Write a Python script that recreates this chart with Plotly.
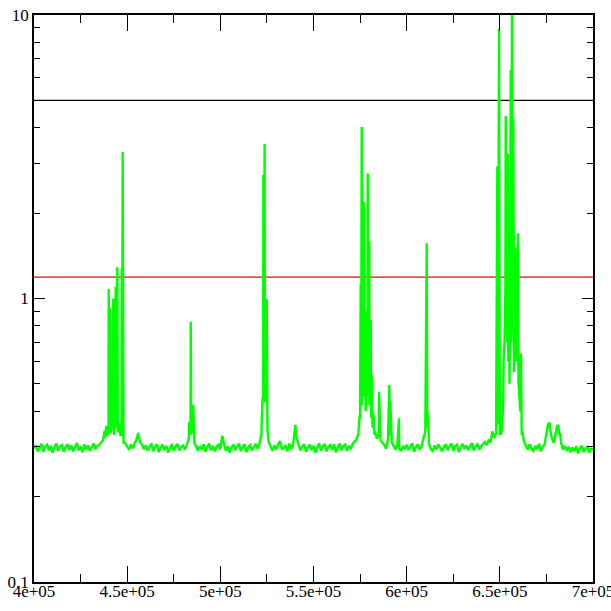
import numpy as np
import plotly.graph_objects as go

# ---- data ----
X_START = 400000
X_STEP = 1000

# green baseline samples every 1000 units (values in thousandths)
green_base_milli = [
    296, 304, 289, 300, 307, 288, 301, 305, 291, 302, 286, 299, 308, 290, 301, 304, 288, 300, 306, 292,  # 400k
    303, 289, 299, 309, 291, 301, 287, 306, 293, 303, 290, 300, 308, 294, 302, 305, 310, 316, 322, 330,  # 420k
    340, 335, 345, 330, 350, 338, 342, 330, 325, 308, 300, 293, 306, 296, 308, 318, 330, 312, 305, 294,  # 440k
    303, 291, 301, 308, 289, 300, 306, 287, 299, 305, 292, 302, 286, 298, 307, 290, 301, 307, 291, 300,  # 460k
    303, 293, 308, 318, 330, 335, 310, 301, 290, 302, 293, 306, 288, 300, 308, 291, 302, 289, 301, 305,  # 480k
    294, 326, 307, 290, 301, 286, 298, 305, 292, 302, 308, 289, 300, 306, 287, 299, 304, 291, 301, 307,  # 500k
    295, 308, 330, 440, 430, 340, 312, 301, 290, 303, 293, 306, 314, 295, 297, 302, 289, 308, 294, 303,  # 520k
    345, 320, 302, 291, 301, 306, 288, 299, 305, 292, 302, 286, 298, 308, 290, 301, 307, 289, 300, 304,  # 540k
    293, 306, 287, 300, 308, 291, 301, 305, 290, 302, 294, 307, 312, 318, 330, 380, 420, 450, 400, 480,  # 560k
    420, 390, 360, 340, 320, 330, 315, 310, 304, 295, 320, 330, 310, 302, 293, 307, 296, 290, 302, 294,  # 580k
    305, 292, 301, 308, 288, 300, 306, 293, 302, 320, 340, 350, 307, 294, 290, 303, 293, 306, 296, 289,  # 600k
    300, 306, 292, 302, 308, 290, 301, 305, 287, 299, 307, 295, 303, 292, 302, 309, 291, 301, 306, 293,  # 620k
    302, 308, 312, 304, 318, 310, 340, 322, 335, 360, 330, 350, 600, 1100, 700, 900, 800, 950, 650, 850,  # 640k
    500, 550, 340, 312, 304, 293, 306, 295, 290, 302, 294, 307, 289, 301, 305, 340, 360, 345, 320, 310,  # 660k
    340, 355, 330, 307, 293, 302, 290, 300, 287, 298, 289, 301, 284, 297, 302, 287, 296, 299, 286, 295,  # 680k
    293,  # 700k
]

# spikes
spike_x = [
    437840, 438800, 439450, 440090, 440410, 440790, 441330, 441860, 442560, 443100,
    443850, 444280, 444710, 445240, 445780, 446420, 447070, 447340, 447610, 448040,
    455980,
    483350, 484100, 484420, 485500, 485870,
    501170,
    522640, 523070, 523440, 523760, 524240, 524890, 525320,
    540240,
    573890, 574700, 575340, 575610, 575880, 576200, 576580, 577110, 577540, 577920,
    578350, 579100, 579530, 579960, 580330, 580710, 580980, 581250, 581680, 582110,
    582750, 585160, 590690, 591230, 595900,
    609850, 610760, 611080, 611620,
    648650, 649560, 650100, 650640, 651180, 651880, 652520, 653160, 653480, 653860,
    654230, 654550, 654920, 655190, 655460, 655840, 656160, 656540, 656860, 657240,
    657620, 657940, 658310, 659040, 659360, 659740, 660100, 660540, 660970, 661370,
    661740,
    675860, 676670, 677470, 680160, 680700, 681390, 682300,
]
spike_y = [
    0.34, 0.355, 0.33, 1.08, 0.36, 0.923, 0.34, 0.37, 1.0, 0.35,
    1.10, 0.38, 1.29, 0.34, 0.363, 0.33, 1.27, 0.8, 3.29, 0.31,
    0.336,
    0.367, 0.828, 0.36, 0.421, 0.33,
    0.327,
    0.446, 2.73, 0.8, 3.51, 0.6, 0.994, 0.34,
    0.358,
    0.33, 0.38, 1.13, 0.6, 4.03, 2.55, 0.7, 2.19, 0.5, 0.9,
    0.45, 2.76, 0.6, 1.59, 0.45, 0.84, 0.38, 0.537, 0.35, 0.395,
    0.33, 0.469, 0.495, 0.435, 0.378,
    0.34, 1.565, 0.4, 0.371,
    2.92, 8.95, 0.36, 0.33, 0.34, 0.45, 0.70, 4.4, 0.9, 1.13,
    3.25, 0.6, 0.85, 0.5, 0.8, 6.4, 0.7, 12.0, 0.75, 4.3,
    0.55, 0.9, 1.51, 0.6, 0.75, 1.70, 0.5, 0.45, 0.4, 0.64,
    0.33,
    0.36, 0.365, 0.335, 0.34, 0.355, 0.358, 0.335,
]

black_x = [400000, 700000]
black_y = [5.0, 5.0]
red_x = [400000, 700000]
red_y = [1.19, 1.19]

x_tick_vals = [400000, 450000, 500000, 550000, 600000, 650000, 700000]
x_tick_text = ["4e+05", "4.5e+05", "5e+05", "5.5e+05", "6e+05", "6.5e+05", "7e+05"]
x_minor_vals = [425000, 475000, 525000, 575000, 625000, 675000]
y_tick_vals = [0.1, 1, 10]
y_tick_text = ["0.1", "1", "10"]
y_minor_vals = [0.2, 0.3, 0.4, 0.5, 0.6, 0.7, 0.8, 0.9, 2, 3, 4, 5, 6, 7, 8, 9]

# ---- build green series ----
base_x = X_START + X_STEP * np.arange(len(green_base_milli))
base_y = np.array(green_base_milli) / 1000.0
gx = np.concatenate([base_x, np.array(spike_x)])
gy = np.concatenate([base_y, np.array(spike_y)])
order = np.argsort(gx, kind="stable")
gx = gx[order]
gy = gy[order]

fig = go.Figure()
fig.add_trace(go.Scatter(x=black_x, y=black_y, mode="lines",
                         line=dict(color="#000000", width=1.2), showlegend=False))
fig.add_trace(go.Scatter(x=red_x, y=red_y, mode="lines",
                         line=dict(color="#ff0000", width=1.4), showlegend=False))
fig.add_trace(go.Scatter(x=gx, y=gy, mode="lines",
                         line=dict(color="#00ff00", width=2.4), showlegend=False))

font = dict(family="Liberation Serif, DejaVu Serif, serif", size=17, color="#000000")

fig.update_layout(
    template="none",
    width=611, height=611, autosize=False,
    margin=dict(l=34, r=18, t=15, b=29, pad=0),
    paper_bgcolor="white", plot_bgcolor="white",
    showlegend=False,
    font=font,
    xaxis=dict(
        automargin=False, ticklabeloverflow="allow", ticklabelstandoff=-7,
        range=[400000, 700000], showgrid=False, zeroline=False,
        showline=True, linecolor="#000000", linewidth=1.5, mirror="allticks",
        ticks="inside", ticklen=16, tickwidth=1, tickcolor="#000000",
        tickmode="array", tickvals=x_tick_vals, ticktext=x_tick_text,
        tickfont=font,
        minor=dict(tickmode="array", tickvals=x_minor_vals, ticks="inside",
                   ticklen=8, tickwidth=1, tickcolor="#000000", showgrid=False),
    ),
    yaxis=dict(
        automargin=False, ticklabeloverflow="allow",
        type="log", range=[-1, 1], showgrid=False, zeroline=False,
        showline=True, linecolor="#000000", linewidth=1.5, mirror="allticks",
        ticks="inside", ticklen=11, tickwidth=1, tickcolor="#000000",
        tickmode="array", tickvals=y_tick_vals, ticktext=y_tick_text,
        tickfont=font,
        minor=dict(tickmode="array", tickvals=y_minor_vals, ticks="inside",
                   ticklen=6, tickwidth=1, tickcolor="#000000", showgrid=False),
    ),
)

fig.write_html("out.html")
